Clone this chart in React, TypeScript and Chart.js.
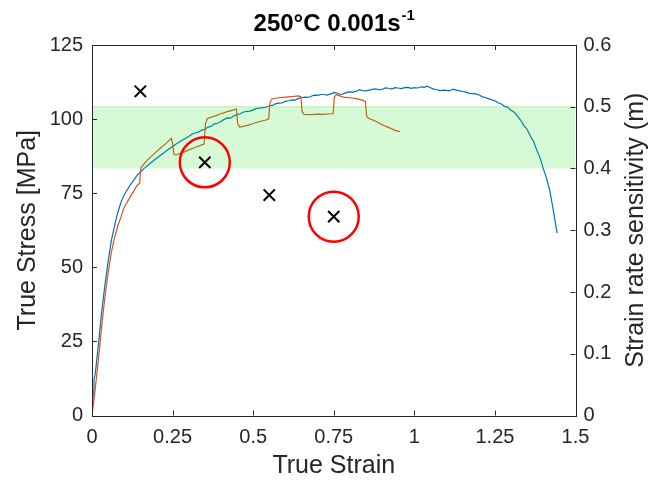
import React, { useEffect, useRef } from 'react';
import { Chart, registerables } from 'chart.js';

Chart.register(...registerables);

const FONT = '"Liberation Sans", Arial, Helvetica, sans-serif';
const AXIS_COLOR = '#262626';

const TITLE_MAIN = '250°C 0.001s';
const TITLE_SUP = '-1';
const X_LABEL = 'True Strain';
const Y_LABEL = 'True Stress [MPa]';
const Y1_LABEL = 'Strain rate sensitivity (m)';

const X_TICKS = [0, 0.25, 0.5, 0.75, 1, 1.25, 1.5];
const Y_TICKS = [0, 25, 50, 75, 100, 125];
const Y1_TICKS = [0, 0.1, 0.2, 0.3, 0.4, 0.5, 0.6];

// Constant strain rate curve (blue)
const blueStrain = [0, 0.004, 0.006, 0.01, 0.02, 0.03, 0.04, 0.05, 0.06, 0.07, 0.08, 0.09, 0.1, 0.12, 0.14, 0.16, 0.18, 0.2, 0.22, 0.24, 0.26, 0.28,
  0.3, 0.31, 0.32, 0.33, 0.34, 0.35, 0.36, 0.37, 0.38, 0.39, 0.4, 0.41, 0.42, 0.43, 0.44, 0.45, 0.46, 0.47, 0.48, 0.49,
  0.5, 0.51, 0.52, 0.53, 0.54, 0.55, 0.56, 0.57, 0.58, 0.59, 0.6, 0.61, 0.62, 0.63, 0.64, 0.65, 0.66, 0.67, 0.68, 0.69,
  0.7, 0.71, 0.72, 0.73, 0.74, 0.75, 0.76, 0.77, 0.78, 0.79, 0.8, 0.81, 0.82, 0.83, 0.84, 0.85, 0.86, 0.87, 0.88, 0.89,
  0.9, 0.91, 0.92, 0.93, 0.94, 0.95, 0.96, 0.97, 0.98, 0.99, 1.0, 1.01, 1.02, 1.03, 1.04, 1.05, 1.06, 1.07, 1.08, 1.09,
  1.1, 1.11, 1.12, 1.13, 1.14, 1.15, 1.16, 1.17, 1.18, 1.19, 1.2, 1.21, 1.22, 1.23, 1.24, 1.25, 1.26, 1.27, 1.28, 1.29,
  1.3, 1.31, 1.32, 1.33, 1.34, 1.35, 1.36, 1.37, 1.38, 1.39, 1.4, 1.41, 1.42, 1.43, 1.443];
const blueStress = [0, 8, 12, 14, 24, 35, 44, 52, 59, 64, 68.5, 72, 74.5, 78, 81, 83.2, 85, 86.8, 88.4, 90, 91.5, 92.9,
  94.1, 94.9, 95.3, 95.6, 96.3, 96.5, 97.3, 97.6, 98.4, 98.6, 99.2, 99.9, 100.4, 100.3, 101.1, 101.5, 101.8, 102.4, 102.6, 102.7,
  103.1, 103.6, 103.7, 103.9, 104.0, 104.5, 104.6, 105.2, 105.4, 105.5, 106.0, 106.2, 106.5, 106.4, 107.0, 107.2, 107.4, 107.3, 107.7, 108.1,
  108.0, 108.3, 108.3, 108.1, 108.5, 108.9, 108.8, 108.3, 108.5, 109.0, 109.2, 109.1, 109.4, 109.9, 109.6, 109.5, 109.8, 110.0, 110.2, 109.9,
  110.0, 110.5, 110.4, 110.1, 110.6, 110.5, 110.3, 110.6, 110.7, 110.4, 110.6, 110.5, 110.9, 110.7, 111.1, 110.6, 110.1, 109.9, 109.6, 109.8,
  109.7, 109.5, 110.1, 109.8, 109.5, 109.3, 109.1, 108.7, 108.6, 108.5, 108.2, 107.6, 107.3, 106.9, 106.5, 106.2, 105.5, 105.1, 104.3, 104.0,
  103.0, 102.3, 101.0, 99.6, 97.8, 96.5, 94.3, 92.4, 89.5, 87.0, 83.3, 80.1, 76, 70, 61.5];

// Strain rate jump curve (orange)
const orangeStrain = [0, 0.01, 0.02, 0.03, 0.04, 0.05, 0.06, 0.07, 0.08, 0.09, 0.1, 0.12, 0.14, 0.148, 0.15, 0.153, 0.17, 0.19, 0.21, 0.23, 0.246, 0.25, 0.254, 0.26, 0.28, 0.3, 0.32, 0.34, 0.348, 0.352, 0.358, 0.38, 0.4, 0.42, 0.44, 0.448, 0.452, 0.458, 0.48, 0.5, 0.52, 0.54, 0.548, 0.552, 0.558, 0.58, 0.6, 0.62, 0.64, 0.648, 0.652, 0.658, 0.68, 0.7, 0.72, 0.74, 0.748, 0.752, 0.758, 0.78, 0.8, 0.82, 0.84, 0.848, 0.852, 0.858, 0.88, 0.9, 0.92, 0.94, 0.955];
const orangeStress = [0, 9, 19, 30, 40, 48, 55, 60, 64, 67, 70.3, 74, 77.6, 78.4, 82.5, 83.8, 86, 88, 90, 91.8, 93.5, 92, 88.2, 87.9, 88.6, 89.6, 90.4, 91.3, 91.6, 98.5, 100.2, 101, 101.8, 102.5, 103.1, 103.4, 98.5, 97.3, 97.8, 98.5, 99.2, 99.7, 100.1, 105.5, 106.8, 107.2, 107.4, 107.6, 107.8, 107.6, 102.5, 101.6, 101.5, 101.7, 101.6, 101.8, 101.8, 107.5, 108.2, 107.4, 107.2, 106.9, 106.3, 106.0, 101.0, 100.3, 99.3, 98.1, 97.2, 96.2, 95.8];

// Strain rate sensitivity values (right axis)
const mStrain = [0.15, 0.35, 0.55, 0.75];
const mValues = [0.525, 0.41, 0.357, 0.322];
const circledStrain = [0.35, 0.75];
const circledM = [0.41, 0.322];

// Superplastic band (right axis)
const bandStrain = [0, 1.5];
const bandLow = 0.4;
const bandHigh = 0.5;

const toPts = (xs: number[], ys: number[]) => xs.map((x, i) => ({ x, y: ys[i] }));

const framePlugin = {
  id: 'matlabFrame',
  afterDraw(chart: any) {
    const { ctx, chartArea: a, scales } = chart;
    const tl = 5;
    ctx.save();
    ctx.strokeStyle = AXIS_COLOR;
    ctx.lineWidth = 1;
    ctx.beginPath();
    X_TICKS.forEach((v) => {
      const px = Math.round(scales.x.getPixelForValue(v)) + 0.5;
      ctx.moveTo(px, a.bottom);
      ctx.lineTo(px, a.bottom - tl);
      ctx.moveTo(px, a.top);
      ctx.lineTo(px, a.top + tl);
    });
    Y_TICKS.forEach((v) => {
      const py = Math.round(scales.y.getPixelForValue(v)) + 0.5;
      ctx.moveTo(a.left, py);
      ctx.lineTo(a.left + tl, py);
    });
    Y1_TICKS.forEach((v) => {
      const py = Math.round(scales.y1.getPixelForValue(v)) + 0.5;
      ctx.moveTo(a.right, py);
      ctx.lineTo(a.right - tl, py);
    });
    ctx.stroke();
    ctx.strokeRect(Math.round(a.left) + 0.5, Math.round(a.top) + 0.5, Math.round(a.right - a.left), Math.round(a.bottom - a.top));
    // right axis title, reading bottom to top
    ctx.save();
    ctx.translate(636, (a.top + a.bottom) / 2);
    ctx.rotate(-Math.PI / 2);
    ctx.fillStyle = AXIS_COLOR;
    ctx.font = `25px ${FONT}`;
    ctx.textAlign = 'center';
    ctx.textBaseline = 'middle';
    ctx.fillText(Y1_LABEL, 0, 0);
    ctx.restore();
    // title with superscript
    ctx.fillStyle = '#000';
    ctx.textBaseline = 'alphabetic';
    ctx.font = `bold 24px ${FONT}`;
    const w1 = ctx.measureText(TITLE_MAIN).width;
    ctx.font = `bold 15px ${FONT}`;
    const w2 = ctx.measureText(TITLE_SUP).width;
    const cx = (a.left + a.right) / 2;
    const x0 = cx - (w1 + w2) / 2;
    ctx.font = `bold 24px ${FONT}`;
    ctx.textAlign = 'left';
    ctx.fillText(TITLE_MAIN, x0, 31);
    ctx.font = `bold 15px ${FONT}`;
    ctx.fillText(TITLE_SUP, x0 + w1 + 1, 20);
    ctx.restore();
  },
};

export default function App() {
  const ref = useRef<HTMLCanvasElement>(null);
  useEffect(() => {
    if (!ref.current) return;
    Chart.defaults.font.family = FONT;
    const chart = new Chart(ref.current, {
      type: 'line',
      data: {
        datasets: [
          {
            label: 'm',
            data: toPts(mStrain, mValues),
            yAxisID: 'y1',
            showLine: false,
            pointStyle: 'crossRot',
            pointRadius: 8,
            borderColor: '#000',
            borderWidth: 2,
            order: -2,
          } as any,
          {
            label: 'circled',
            data: toPts(circledStrain, circledM),
            yAxisID: 'y1',
            showLine: false,
            pointStyle: 'circle',
            pointRadius: 25,
            borderColor: '#ff0000',
            backgroundColor: 'rgba(0,0,0,0)',
            borderWidth: 2.5,
            order: -1,
          },
          {
            label: 'band',
            data: toPts(bandStrain, bandStrain.map(() => bandHigh)),
            yAxisID: 'y1',
            pointRadius: 0,
            borderColor: 'rgba(0,200,0,0.22)',
            borderWidth: 1,
            backgroundColor: 'rgba(0,225,0,0.16)',
            fill: { value: bandLow },
            order: 0,
          },
          {
            label: 'jump',
            data: toPts(orangeStrain, orangeStress),
            yAxisID: 'y',
            pointRadius: 0,
            borderColor: '#D95319',
            borderWidth: 1.2,
            fill: false,
            order: 1,
          },
          {
            label: 'constant',
            data: toPts(blueStrain, blueStress),
            yAxisID: 'y',
            pointRadius: 0,
            borderColor: '#0072BD',
            borderWidth: 1.2,
            fill: false,
            order: 2,
          },
        ],
      },
      options: {
        animation: false,
        responsive: true,
        maintainAspectRatio: false,
        layout: { padding: { top: 45, left: 0, right: 0, bottom: 0 } },
        plugins: {
          legend: { display: false },
          tooltip: { enabled: false },
          title: { display: false },
          filler: { drawTime: 'beforeDatasetDraw' },
        } as any,
        scales: {
          x: {
            type: 'linear',
            min: 0,
            max: 1.5,
            afterBuildTicks: (s: any) => { s.ticks = X_TICKS.map((v) => ({ value: v })); },
            afterFit: (s: any) => { s.height = 66.5; },
            grid: { display: false, drawTicks: false },
            border: { display: false },
            ticks: {
              padding: 10,
              color: AXIS_COLOR,
              font: { size: 20 },
              maxRotation: 0,
              callback: (v: any) => String(Math.round(Number(v) * 100) / 100),
            },
            title: { display: true, text: X_LABEL, color: AXIS_COLOR, font: { size: 25, lineHeight: 1 }, padding: { top: 0, bottom: 3 } },
          },
          y: {
            type: 'linear',
            position: 'left',
            min: 0,
            max: 125,
            afterBuildTicks: (s: any) => { s.ticks = Y_TICKS.map((v) => ({ value: v })); },
            afterFit: (s: any) => { s.width = 92; },
            grid: { display: false, drawTicks: false },
            border: { display: false },
            ticks: { padding: 9, color: AXIS_COLOR, font: { size: 20 } },
            title: { display: true, text: Y_LABEL, color: AXIS_COLOR, font: { size: 25, lineHeight: 1 }, padding: { top: 16, bottom: 0 } },
          },
          y1: {
            type: 'linear',
            position: 'right',
            min: 0,
            max: 0.6,
            afterBuildTicks: (s: any) => { s.ticks = Y1_TICKS.map((v) => ({ value: v })); },
            afterFit: (s: any) => { s.width = 74.5; },
            grid: { display: false, drawTicks: false },
            border: { display: false },
            ticks: {
              padding: 8,
              color: AXIS_COLOR,
              font: { size: 20 },
              callback: (v: any) => String(Math.round(Number(v) * 10) / 10),
            },
            title: { display: false },
          },
        },
      } as any,
      plugins: [framePlugin],
    });
    return () => chart.destroy();
  }, []);
  return (
    <div style={{ position: 'fixed', left: 0, top: 0, width: 650, height: 482, background: '#fff' }}>
      <canvas ref={ref} />
    </div>
  );
}
